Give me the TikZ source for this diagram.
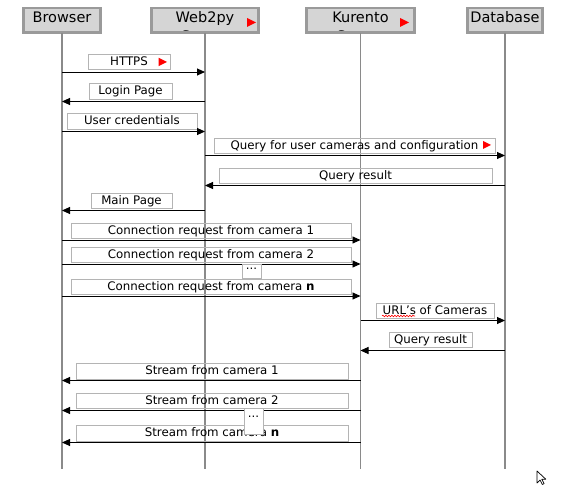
\documentclass[tikz,border=0pt]{standalone}
\usepackage{fontspec}
\setmainfont{DejaVu Sans}
\usetikzlibrary{arrows.meta,decorations.pathmorphing}

\definecolor{boxfill}{HTML}{D5D5D5}
\definecolor{boxline}{HTML}{9A9A9A}
\definecolor{lblline}{HTML}{B4B4B4}
\definecolor{lifegray}{HTML}{8A8A8A}

% small red "play" mark: left x, middle y, size
\newcommand\playmark[3]{\fill[red] (#1,#2) ++(0,-#3/2) -- ++(0,#3) -- ++(#3,-#3/2) -- cycle;}

\tikzset{
  actor/.style={fill=boxfill, minimum height=24.3pt, inner sep=0},
  actorline/.style={draw=boxline, line width=2.7pt},
  actortxt/.style={font=\fontsize{14.5}{19}\selectfont, inner sep=0, anchor=base},
  life/.style={draw=lifegray, line width=1.3pt},
  msg/.style={draw=black, line width=0.9pt, -{Triangle[length=8pt,width=7pt]}},
  lbl/.style={draw=lblline, line width=0.9pt, inner sep=0, minimum height=15.5pt,
    text height=9pt, text depth=2.5pt, font=\fontsize{11.8}{14}\selectfont},
  gap/.style={draw=lblline, fill=white, line width=0.9pt, inner sep=0, minimum width=19pt,
    font=\fontsize{11.8}{14}\selectfont, anchor=north},
}

\begin{document}
\begin{tikzpicture}[x=1pt, y=-1pt]
			\useasboundingbox (0,0) rectangle (568,486);

			% participants
			\foreach \n/\x/\w/\txt/\sub in {brw/62/76/Browser/{}, web/205/107/Web2py/Server, kur/360.5/108/Kurento/Server, db/505/75/Database/{}}
			{	\node[actor, minimum width=\w pt] (\n) at (\x,20.5) {};
				\begin{scope}
					\clip (\n.south west) rectangle (\n.north east);
					\node[actortxt] (\n-title) at (\x,23) {\txt};
					\node[actortxt] (\n-sub) at (\x,42) {\sub};
				\end{scope}
				\draw[actorline] (\n.south west) rectangle (\n.north east);}

			\playmark{247}{22.5}{9}
			\playmark{400}{22.5}{9}

			% lifelines
			\coordinate (bottom) at (0,469);
			\foreach \n in {brw,web,kur,db}
			{	\draw[life] (\n.south) -- (\n |- bottom);}

			% messages: no/from/to/arrow y/label x/label y/label width/text
			\def\msgs {1/brw/web/72/129/62/82/HTTPS,
				2/web/brw/101.5/130.5/91.5/83/Login Page,
				3/brw/web/131.5/132/121.5/130/User credentials,
				4/web/db/155.5/354.5/146/281/Query for user cameras and configuration,
				5/db/web/185.5/355.5/176/273/Query result,
				6/web/brw/210.5/131.5/201/81/Main Page,
				7/brw/kur/240/211/231/280/Connection request from camera 1,
				8/brw/kur/264/211/255/280/Connection request from camera 2,
				9/brw/kur/296/211/287/280/Connection request from camera \textbf{n},
				10/kur/db/320.5/435/311/118/URL's of Cameras,
				11/db/kur/350.5/430.5/340/83/Query result,
				12/kur/brw/380.5/212/371.5/272/Stream from camera 1,
				13/kur/brw/410.5/212/401/272/Stream from camera 2,
				14/kur/brw/442.5/212/433.5/272/Stream from camera \textbf{n}}
			\foreach \i/\f/\t/\y/\cx/\cy/\w/\txt in \msgs
			{	\node[lbl, minimum width=\w pt] (m\i) at (\cx,\cy) {\txt};
				\path (0,\y) coordinate (r\i);
				\draw[msg] (\f |- r\i) -- (\t |- r\i);}

			\playmark{158.5}{62}{8.5}
			\playmark{483}{145}{8}
			\draw[red, line width=0.6pt, decorate, decoration={snake, amplitude=0.8pt, segment length=3pt}] (382,316) -- (415,316);

			% elided messages
			\node[gap, text height=5pt, text depth=9pt] (gap1) at (251.5,264) {...};
			\node[gap, text height=9.5pt, text depth=16.5pt] (gap2) at (253.5,408) {...};

			% pointer
			\draw[fill=white, line width=0.7pt, line join=round] (537,471) -- ++(0,12) -- ++(3,-3) -- ++(2.3,4.5) -- ++(1.8,-0.9) -- ++(-2.3,-4.4) -- ++(4,0) -- cycle;
		\end{tikzpicture}
\end{document}
